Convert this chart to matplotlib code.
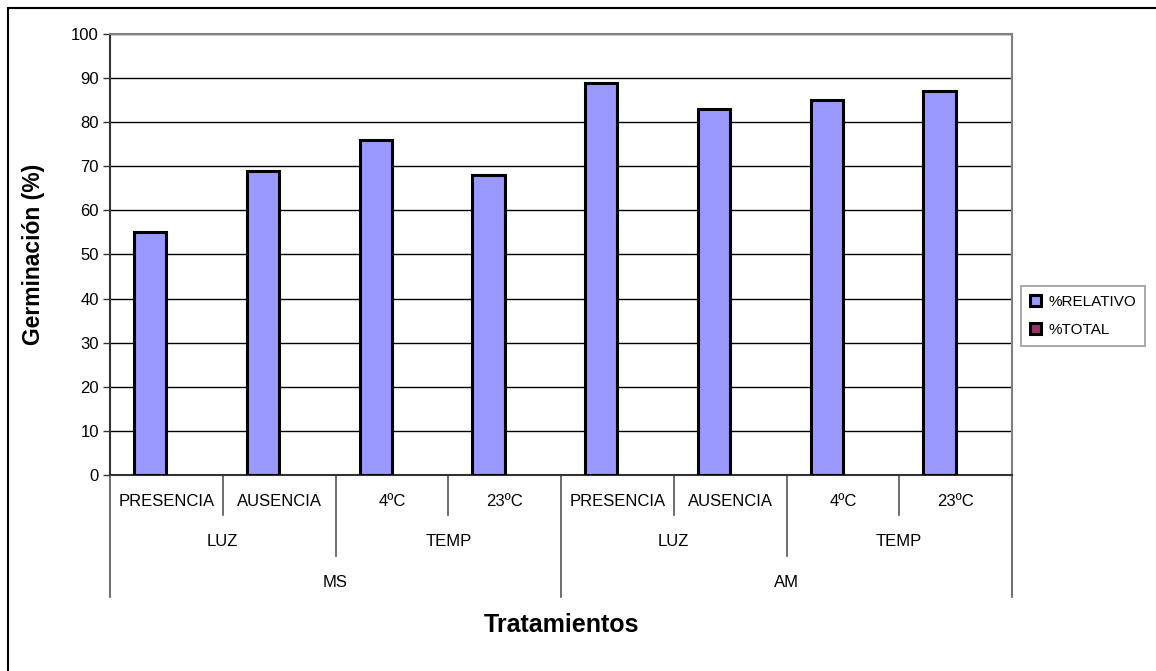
import matplotlib.pyplot as plt
import numpy as np
from matplotlib.lines import Line2D
from matplotlib.patches import Rectangle

plt.rcParams['font.family'] = ['Liberation Sans', 'DejaVu Sans']

# tratamientos (tres niveles de etiqueta)
tratamientos = ["PRESENCIA", "AUSENCIA", "4\u00baC", "23\u00baC",
                "PRESENCIA", "AUSENCIA", "4\u00baC", "23\u00baC"]
factores = ["LUZ", "TEMP", "LUZ", "TEMP"]
medios = ["MS", "AM"]

pct_relativo = [55, 69, 76, 68, 89, 83, 85, 87]
pct_total = [np.nan] * 8  # serie sin datos

fig = plt.figure(figsize=(11.56, 6.71), dpi=100)
W, H = 1156, 671
x0, x1, y0, y1 = 110, 1012, 34, 475
ax = fig.add_axes([x0 / W, 1 - y1 / H, (x1 - x0) / W, (y1 - y0) / H])

n = len(tratamientos)
x = np.arange(n)
bw = 1 / 3.5
b1 = ax.bar(x - bw / 2, pct_relativo, bw, color='#9999ff', edgecolor='black',
            linewidth=2.2, label='%RELATIVO', zorder=3)
b2 = ax.bar(x + bw / 2, pct_total, bw, color='#993366', edgecolor='black',
            linewidth=2.2, label='%TOTAL', zorder=3)

ax.set_xlim(-0.5, n - 0.5)
ax.set_ylim(0, 100)
ax.set_yticks(range(0, 101, 10))
ax.yaxis.grid(True, color='black', linewidth=1.0)
ax.set_axisbelow(True)
ax.tick_params(axis='y', direction='out', length=5, width=1, colors='#333333',
               labelsize=12, labelcolor='black', pad=3)
ax.set_xticks([])
for s in ['top', 'right']:
    ax.spines[s].set_color('#808080')
    ax.spines[s].set_linewidth(1.5)
for s in ['left', 'bottom']:
    ax.spines[s].set_color('#333333')
    ax.spines[s].set_linewidth(1.5)

# etiquetas jerarquicas del eje x
tr = ax.get_xaxis_transform()
fila = [-0.0612, -0.150, -0.243]
corte = [-0.0907, -0.1837, -0.2766]
for i, t in enumerate(tratamientos):
    ax.text(i, fila[0], t, transform=tr, ha='center', va='center', fontsize=12)
for j, f in enumerate(factores):
    ax.text(2 * j + 0.5, fila[1], f, transform=tr, ha='center', va='center', fontsize=12)
for k, m in enumerate(medios):
    ax.text(4 * k + 1.5, fila[2], m, transform=tr, ha='center', va='center', fontsize=12)

for b in range(n + 1):
    xb = b - 0.5
    if b % 4 == 0:
        yb = corte[2]
    elif b % 2 == 0:
        yb = corte[1]
    else:
        yb = corte[0]
    ax.add_line(Line2D([xb, xb], [0, yb], transform=tr, color='#555555',
                       linewidth=1.2, clip_on=False))

ax.set_ylabel('Germinación (%)', fontsize=16.5, fontweight='bold')
ax.yaxis.set_label_coords(-0.072, 0.5)
ax.text(0.5, (475 - 625) / 441, 'Tratamientos', transform=ax.transAxes,
        ha='center', va='center', fontsize=18, fontweight='bold')

leg = fig.legend(handles=[b1, b2], loc='center left',
                 bbox_to_anchor=(1021 / W, 1 - 316 / H), fontsize=11,
                 frameon=True, fancybox=False, edgecolor='#808080',
                 handlelength=0.7, handleheight=0.7, handletextpad=0.5,
                 borderpad=0.6, labelspacing=0.9, borderaxespad=0)
leg.get_frame().set_linewidth(1.2)

# marco exterior del grafico
fig.add_artist(Rectangle((8 / W, -0.05), 1.1, 1 - 8 / H + 0.05,
                         transform=fig.transFigure, fill=False,
                         edgecolor='black', linewidth=1.5))

fig.savefig('out.png', dpi=100)
